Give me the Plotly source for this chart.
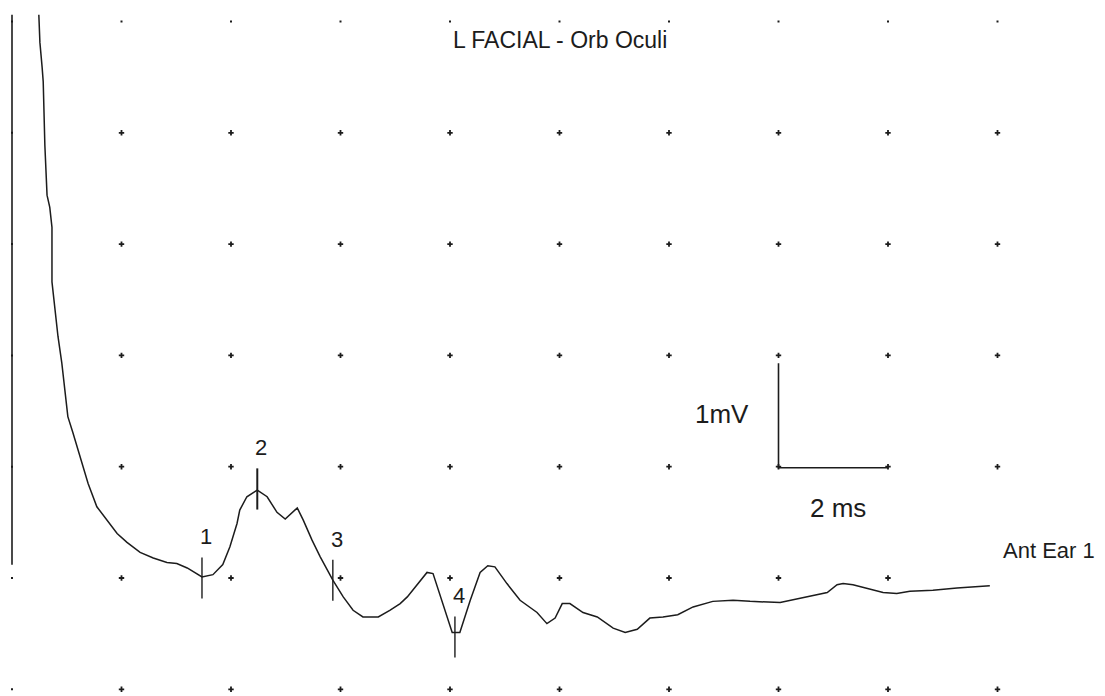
import plotly.graph_objects as go

# ---- data (time in ms, amplitude in mV) ----
trace_ms = [0.49, 0.51, 0.55, 0.57, 0.60, 0.64, 0.69, 0.73, 0.73, 0.79, 0.84, 0.91, 0.97,
            1.02, 1.11, 1.21, 1.28, 1.39, 1.55, 1.74, 1.92, 2.10, 2.34, 2.58, 2.83, 3.01,
            3.20, 3.47, 3.67, 3.85, 3.98, 4.11, 4.16, 4.29, 4.48, 4.66, 4.84, 4.99, 5.21,
            5.32, 5.48, 5.63, 5.86, 6.05, 6.23, 6.41, 6.69, 6.90, 7.09, 7.22, 7.40, 7.58,
            7.69, 7.85, 8.04, 8.18, 8.37, 8.55, 8.69, 8.82, 9.04, 9.28, 9.59, 9.77, 9.92,
            10.05, 10.19, 10.43, 10.69, 10.98, 11.20, 11.42, 11.65, 11.89, 12.16, 12.44,
            12.80, 13.17, 13.48, 14.03, 14.39, 14.89, 15.07, 15.18, 15.36, 15.91, 16.16,
            16.40, 16.82, 17.26, 17.86]
trace_mv = [5.06, 4.81, 4.59, 4.46, 3.89, 3.44, 3.33, 3.15, 2.66, 2.38, 2.17, 1.93, 1.69,
            1.45, 1.31, 1.15, 1.03, 0.85, 0.64, 0.52, 0.40, 0.32, 0.23, 0.18, 0.14, 0.13,
            0.09, 0.01, 0.03, 0.12, 0.28, 0.49, 0.61, 0.73, 0.79, 0.73, 0.59, 0.53, 0.63,
            0.52, 0.34, 0.19, -0.02, -0.17, -0.29, -0.35, -0.35, -0.29, -0.23, -0.17, -0.06,
            0.05, 0.04, -0.20, -0.49, -0.49, -0.20, 0.05, 0.11, 0.10, -0.05, -0.20, -0.31,
            -0.41, -0.36, -0.23, -0.23, -0.31, -0.35, -0.45, -0.49, -0.46, -0.36, -0.35,
            -0.33, -0.26, -0.21, -0.20, -0.21, -0.22, -0.18, -0.13, -0.06, -0.05, -0.06,
            -0.13, -0.14, -0.12, -0.11, -0.09, -0.07]

marker_labels = ["1", "2", "3", "4"]
marker_ms = [3.47, 4.48, 5.86, 8.09]
marker_mv = [0.00, 0.80, -0.02, -0.53]
marker_half = 0.185

grid_ms = [0, 2, 4, 6, 8, 10, 12, 14, 16, 18]
grid_mv = [-1, 0, 1, 2, 3, 4, 5]

baseline_line_ms = [0, 0]
baseline_line_mv = [5.06, 0.12]

scale_ms = [14.0, 14.0, 16.0]
scale_mv = [1.93, 0.99, 0.99]

title_text = "L FACIAL - Orb Oculi"
channel_text = "Ant Ear 1"
scale_v_text = "1mV"
scale_h_text = "2 ms"

INK = "#1c1c1c"
FONT = "Liberation Sans, Arial, sans-serif"

PX_MS = 54.75    # pixels per ms
PX_MV = 111.3    # pixels per mV
PAGE_OFF = 8     # page body margin of the html page

fig = go.Figure()

# grid dots
gx, gy, sx, sy = [], [], [], []
for m in grid_mv:
    for t in grid_ms:
        if t == 18 and m == 0:
            continue
        if t == 0 or m == 5:
            sx.append(t); sy.append(m)
        else:
            gx.append(t); gy.append(m)
fig.add_trace(go.Scatter(x=gx, y=gy, mode="markers",
                         marker=dict(symbol="cross", size=4.5, color=INK, line=dict(width=0)),
                         hoverinfo="skip", showlegend=False))
fig.add_trace(go.Scatter(x=sx, y=sy, mode="markers",
                         marker=dict(symbol="square", size=2, color=INK, line=dict(width=0)),
                         hoverinfo="skip", showlegend=False))

# left vertical line
fig.add_trace(go.Scatter(x=baseline_line_ms, y=baseline_line_mv, mode="lines",
                         line=dict(color=INK, width=1.6), hoverinfo="skip", showlegend=False))

# waveform
fig.add_trace(go.Scatter(x=trace_ms, y=trace_mv, mode="lines",
                         line=dict(color=INK, width=1.5), hoverinfo="skip", showlegend=False))

# marker ticks
for lab, t, m in zip(marker_labels, marker_ms, marker_mv):
    fig.add_trace(go.Scatter(x=[t, t], y=[m - marker_half, m + marker_half], mode="lines",
                             line=dict(color=INK, width=2.0 if lab == "2" else 1.4),
                             hoverinfo="skip", showlegend=False))
    fig.add_annotation(x=t, y=m + marker_half, text=lab, showarrow=False,
                       xanchor="center", yanchor="bottom", xshift=4, yshift=6,
                       font=dict(family=FONT, size=22, color=INK))

# scale bar
fig.add_trace(go.Scatter(x=scale_ms, y=scale_mv, mode="lines",
                         line=dict(color=INK, width=1.6), hoverinfo="skip", showlegend=False))
fig.add_annotation(x=12.97, y=1.47, text=scale_v_text, showarrow=False,
                   xanchor="center", yanchor="middle",
                   font=dict(family=FONT, size=26, color=INK))
fig.add_annotation(x=15.09, y=0.63, text=scale_h_text, showarrow=False,
                   xanchor="center", yanchor="middle",
                   font=dict(family=FONT, size=26, color=INK))

# labels
fig.add_annotation(x=10.0, y=4.83, text=title_text, showarrow=False,
                   xanchor="center", yanchor="middle",
                   font=dict(family=FONT, size=23, color=INK))
fig.add_annotation(x=18.09, y=0.25, text=channel_text, showarrow=False,
                   xanchor="left", yanchor="middle", borderpad=0,
                   font=dict(family=FONT, size=22, color=INK))

fig.update_layout(
    width=1105, height=696, autosize=False,
    margin=dict(l=0, r=0, t=0, b=0),
    paper_bgcolor="white", plot_bgcolor="white",
    xaxis=dict(range=[(PAGE_OFF - 12) / PX_MS, (PAGE_OFF + 1105 - 12) / PX_MS],
               visible=False, fixedrange=True),
    yaxis=dict(range=[(578 - PAGE_OFF - 696) / PX_MV, (578 - PAGE_OFF) / PX_MV],
               visible=False, fixedrange=True),
    showlegend=False,
)

fig.write_html("out.html")
